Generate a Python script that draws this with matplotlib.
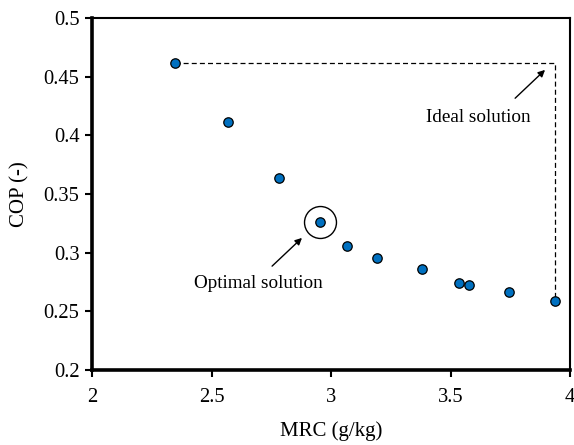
import matplotlib
matplotlib.use("Agg")
import matplotlib.pyplot as plt

# Pareto front: moisture removal capacity vs. coefficient of performance
mrc = [2.347, 2.569, 2.782, 2.954, 3.068, 3.192, 3.382, 3.536, 3.576, 3.746, 3.936]
cop = [0.4616, 0.4114, 0.3636, 0.326, 0.3054, 0.2954, 0.2858, 0.2744, 0.2721, 0.2662, 0.2585]
optimal_index = 3

x_ticks = [2, 2.5, 3, 3.5, 4]
y_ticks = [0.2, 0.25, 0.3, 0.35, 0.4, 0.45, 0.5]
x_tick_labels = ["2", "2.5", "3", "3.5", "4"]
y_tick_labels = ["0.2", "0.25", "0.3", "0.35", "0.4", "0.45", "0.5"]

plt.rcParams["font.family"] = ["Liberation Serif", "DejaVu Serif"]

fig = plt.figure(figsize=(5.74, 4.45), dpi=100)
ax = fig.add_axes([92 / 574, 1 - 370 / 445, 478 / 574, 352 / 445])

# ideal point sits at the best MRC and the best COP
ideal_x = max(mrc)
ideal_y = max(cop)
ax.plot([mrc[0], ideal_x, ideal_x], [cop[0], ideal_y, cop[-1]],
        linestyle=(0, (4, 2.5)), color="black", linewidth=0.9, zorder=1)

ax.scatter(mrc, cop, s=46, color="#0070C0", edgecolor="black", linewidth=0.9, zorder=3)
ax.plot(mrc[optimal_index], cop[optimal_index], marker="o", markersize=23,
        markerfacecolor="none", markeredgecolor="black", markeredgewidth=1.0, zorder=2)

ax.annotate("", xy=(3.904, 0.4574), xytext=(3.762, 0.430),
            arrowprops=dict(arrowstyle="-|>", color="black", lw=1.0, mutation_scale=10))
ax.text(3.615, 0.4156, "Ideal solution", ha="center", va="center", fontsize=13.8)

ax.annotate("", xy=(2.887, 0.3142), xytext=(2.745, 0.2869),
            arrowprops=dict(arrowstyle="-|>", color="black", lw=1.0, mutation_scale=10))
ax.text(2.695, 0.2741, "Optimal solution", ha="center", va="center", fontsize=13.8)

ax.set_xlim(2, 4)
ax.set_ylim(0.2, 0.5)
ax.set_xticks(x_ticks)
ax.set_xticklabels(x_tick_labels)
ax.set_yticks(y_ticks)
ax.set_yticklabels(y_tick_labels)
ax.tick_params(direction="out", length=5, width=1.5, labelsize=14.8)
ax.tick_params(axis="x", pad=8)
ax.tick_params(axis="y", pad=4)
ax.set_xlabel("MRC (g/kg)", fontsize=15, labelpad=10)
ax.set_ylabel("COP (-)", fontsize=15, labelpad=10)

ax.spines["left"].set_linewidth(2.6)
ax.spines["bottom"].set_linewidth(2.6)
ax.spines["top"].set_linewidth(1.5)
ax.spines["right"].set_linewidth(1.5)

fig.savefig("out.png", dpi=100)
